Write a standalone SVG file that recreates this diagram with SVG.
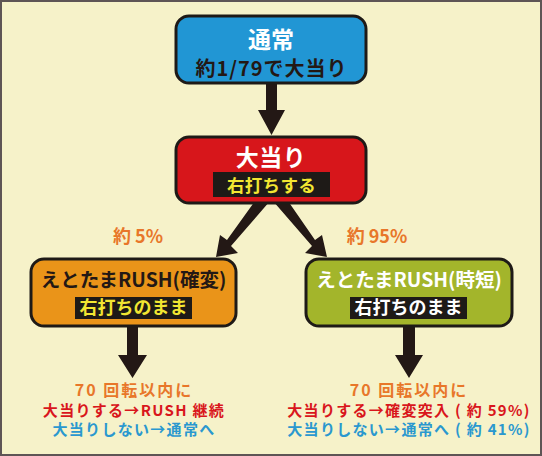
<svg xmlns="http://www.w3.org/2000/svg" width="542" height="456" viewBox="0 0 542 456">
<defs>
<style>
text{font-family:"Noto Sans CJK JP","Noto Sans",sans-serif;font-weight:bold;text-anchor:middle}
.box{stroke:#1e1a17;stroke-width:3}
.lbl{fill:#1e1a17}
.arr{fill:#231815}
.t2{font-size:18px}
.t3{font-size:15px;letter-spacing:1.3px}
.t4{font-size:18px}
.t5{font-size:16px;letter-spacing:2px}
.or{fill:#e8772a}
.rd{fill:#d9161c}
.bl{fill:#2a98cf}
.dk{fill:#231815}
.wh{fill:#ffffff}
.ye{fill:#f2e632}
</style>
</defs>
<rect x="1" y="1" width="540" height="454" fill="#f6f2c9" stroke="#5e5555" stroke-width="2"/>
<g id="connectors">
<polygon class="arr" points="266,82 277,82 277,110 285,110 271.5,135 258,110 266,110"/>
<polygon class="arr" points="255,201 270,201 231,246 238,253 216,257 220,235 227,240"/>
<polygon class="arr" points="273,201 288,201 315,240 322,235 327,257 305,253 312,246"/>
<polygon class="arr" points="127,325 138,325 138,355 147,355 132.5,378 118,355 127,355"/>
<polygon class="arr" points="403,325 415,325 415,355 423,355 409,378 395,355 403,355"/>
</g>
<g id="node-normal">
<rect class="box" x="176" y="16" width="190" height="67" rx="13" fill="#2196d4"/>
<text class="wh" x="271" y="48" style="font-size:23px">通常</text>
<text class="dk" x="271.5" y="76" style="font-size:20px;letter-spacing:1px">約1/79で大当り</text>
</g>
<g id="node-jackpot">
<rect class="box" x="176" y="137" width="190" height="66" rx="13" fill="#d7161b"/>
<text class="wh" x="271" y="166" style="font-size:23px;letter-spacing:0.5px">大当り</text>
<rect class="lbl" x="213" y="172" width="117" height="25"/>
<text class="ye" x="271.5" y="192" style="font-size:17.5px;letter-spacing:0.3px">右打ちする</text>
</g>
<g id="label-5">
<text class="or t4" x="138" y="243">約 5%</text>
</g>
<g id="label-95">
<text class="or t4" x="377" y="243">約 95%</text>
</g>
<g id="node-rush-kakuhen">
<rect class="box" x="31" y="259" width="205" height="67" rx="13" fill="#ea9419"/>
<text class="dk" x="133.5" y="287" style="font-size:19.5px">えとたまRUSH(確変)</text>
<rect class="lbl" x="75" y="297" width="117" height="22"/>
<text class="ye t2" x="133.5" y="314">右打ちのまま</text>
</g>
<g id="node-rush-jitan">
<rect class="box" x="306" y="259" width="206" height="67" rx="13" fill="#a3b52b"/>
<text class="wh" x="409" y="287" style="font-size:19.5px">えとたまRUSH(時短)</text>
<rect class="lbl" x="350" y="297" width="117" height="22"/>
<text class="wh t2" x="408.5" y="314">右打ちのまま</text>
</g>
<g id="result-left">
<text class="or t5" x="134" y="396">70 回転以内に</text>
<text class="rd t3" x="134" y="416">大当りする→RUSH 継続</text>
<text class="bl t3" x="134" y="435">大当りしない→通常へ</text>
</g>
<g id="result-right">
<text class="or t5" x="409" y="396">70 回転以内に</text>
<text class="rd t3" x="409" y="416">大当りする→確変突入 ( 約 59%)</text>
<text class="bl t3" x="409" y="435">大当りしない→通常へ ( 約 41%)</text>
</g>
</svg>
